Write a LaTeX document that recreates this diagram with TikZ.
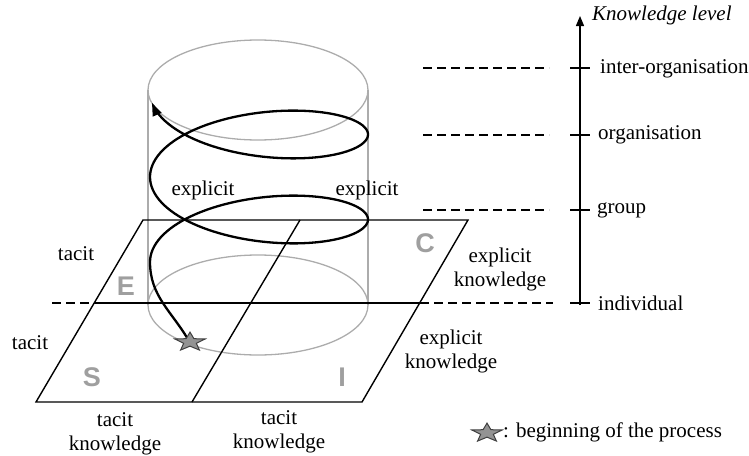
\documentclass[tikz,border=0pt]{standalone}
\usepackage{fontspec}
\setmainfont{Liberation Serif}
\newfontfamily\letterfont{Liberation Sans}
\usetikzlibrary{shapes.geometric,arrows.meta}
\begin{document}
\begin{tikzpicture}[x=1pt,y=-1pt,
  font=\fontsize{21}{24}\selectfont,
  cyl/.style={draw=gray!65, line width=1.3pt},
  plane/.style={draw=black, line width=1.4pt},
  lvl/.style={draw=black, dash pattern=on 9pt off 5pt, line width=1.2pt},
  spiral/.style={draw=black, line width=2.3pt, line join=round, -{Triangle[length=13pt,width=9pt]}},
  quad/.style={font=\letterfont\bfseries\fontsize{27}{30}\selectfont, text=gray!75, inner sep=0pt},
  txt/.style={inner sep=0pt, align=center},
  startstar/.style={star, star points=5, star point ratio=2.4, minimum size=32pt, inner sep=0pt, draw=black!75, fill=gray!85, line width=1pt},
]
\useasboundingbox (0,0) rectangle (749,455);

% cylinder
\draw[cyl] (258,90) ellipse [x radius=110, y radius=50];
\draw[cyl] (258,305) ellipse [x radius=110, y radius=50];
\coordinate (cTL) at (148,90);
\coordinate (cTR) at (368,90);
\coordinate (cBL) at (148,305);
\coordinate (cBR) at (368,305);
\draw[cyl] (cTL) -- (cBL);
\draw[cyl] (cTR) -- (cBR);

% plane
\coordinate (BL) at (36,402);
\coordinate (BR) at (362,402);
\coordinate (TR) at (468,220);
\coordinate (TL) at (143,220);
\coordinate (MT) at (300,220);
\coordinate (MB) at (192,402);
\coordinate (HL) at (94,303);
\coordinate (HR) at (420,303);
\coordinate (HDL) at (52,303);
\coordinate (HDR) at (553,303);
\draw[plane] (BL) -- (BR) -- (TR) -- (TL) -- cycle;
\draw[plane] (MT) -- (MB);
\draw[plane] (HL) -- (HR);
\draw[lvl] (HDL) -- (HL);
\draw[lvl] (HR) -- (HDR);

% level dashed lines
\coordinate (L1a) at (423,68);  \coordinate (L1b) at (549,68);
\coordinate (L2a) at (423,135); \coordinate (L2b) at (549,135);
\coordinate (L3a) at (423,210); \coordinate (L3b) at (549,210);
\draw[lvl] (L1a) -- (L1b);
\draw[lvl] (L2a) -- (L2b);
\draw[lvl] (L3a) -- (L3b);

% axis
\coordinate (ax0) at (580,305);
\coordinate (ax1) at (580,16);
\draw[line width=1.3pt, -{Triangle[length=10pt,width=8pt]}] (ax0) -- (ax1);
\foreach \yy in {68,135,210,303} \draw[line width=1.2pt] (570,\yy) -- (590,\yy);
\node[txt, anchor=west, font=\fontsize{21}{24}\selectfont\itshape] (klevel) at (592,15) {Knowledge level};
\node[txt, anchor=west] (interorg) at (600,69) {inter-organisation};
\node[txt, anchor=west] (org) at (598,135) {organisation};
\node[txt, anchor=west] (grp) at (597,210) {group};
\node[txt, anchor=west] (ind) at (598,303) {individual};

% quadrant letters
\node[quad] (E) at (126,286) {E};
\node[quad] (S) at (92,377) {S};
\node[quad] (I) at (342,377) {I};
\node[quad] (C) at (425,243) {C};

% labels
\node[txt] (exl) at (203,190) {explicit};
\node[txt] (exr) at (367,190) {explicit};
\node[txt] (tac1) at (76,254) {tacit};
\node[txt] (tac2) at (30,343) {tacit};
\node[txt] (tk1) at (115,434) {tacit\\knowledge};
\node[txt] (tk2) at (279,432) {tacit\\knowledge};
\node[txt] (ek1) at (500,269) {explicit\\knowledge};
\node[txt] (ek2) at (451,351) {explicit\\knowledge};

% start star position
\coordinate (stc) at (189,341);
\coordinate (bulge) at (150,262);

% spiral (projected helix)
\draw[spiral] (stc) to[out=120,in=270] (bulge)
  -- plot[domain=0:12.376, samples=220, variable=\t]
  ({259-109*cos(\t r)}, {262-13.53*\t-43*sin(\t r)});

% stars
\begin{scope}[yscale=0.62]
\node[startstar, transform shape] (st) at (190,342/0.62) {};
\node[startstar, transform shape] (legstar) at (487,433/0.62) {};
\end{scope}
\node[txt, anchor=west] (legend) at (503,432) {: beginning of the process};
\end{tikzpicture}
\end{document}
